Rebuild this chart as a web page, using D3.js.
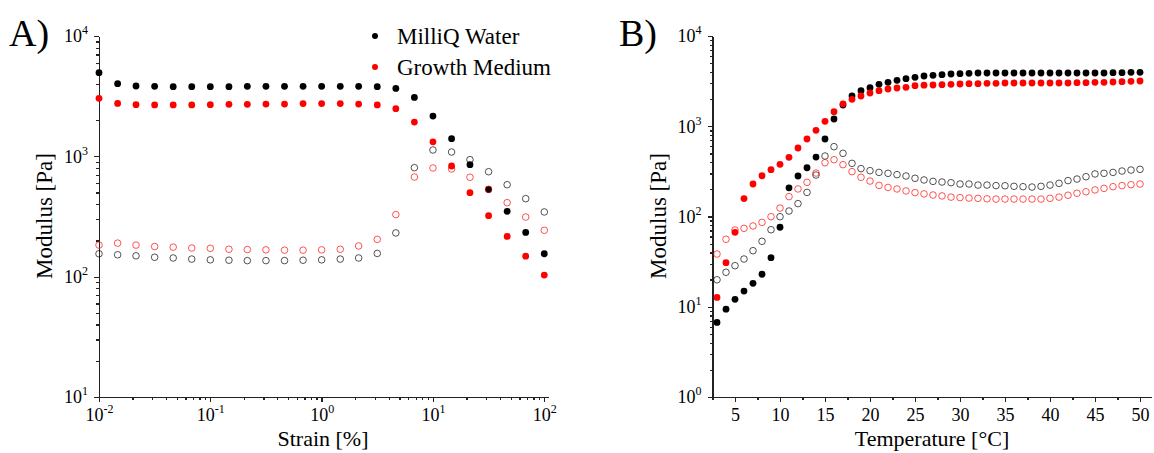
<!DOCTYPE html>
<meta charset="utf-8">

<script src="https://cdn.jsdelivr.net/npm/d3@7"></script>

<style type="text/css">

body { margin: 0; background: #fff; }
.axis path, .axis line { stroke: #222; stroke-width: 1.3; shape-rendering: crispEdges; }

</style>

<body></body>

<script>

// Panel A: strain sweep
var strain = [0.01, 0.0147, 0.0215, 0.0316, 0.0464, 0.0681, 0.1, 0.147, 0.215, 0.316, 0.464, 0.681,
              1, 1.47, 2.15, 3.16, 4.64, 6.81, 10, 14.7, 21.5, 31.6, 46.4, 68.1, 100];

var waterStorageA = [4955, 4018, 3841, 3815, 3795, 3795, 3795, 3795, 3815, 3815, 3815, 3815, 3815,
                     3815, 3815, 3795, 3670, 3090, 2160, 1403, 853, 530, 349, 233, 155];
var mediumStorageA = [3034, 2754, 2687, 2673, 2673, 2673, 2687, 2704, 2704, 2720, 2720, 2742, 2742,
                      2742, 2720, 2673, 2490, 1928, 1320, 831, 499, 321, 216, 148, 103];
var waterLossA = [155, 152, 149, 145, 143, 140, 138, 137, 136, 136, 136, 137, 138,
                  140, 143, 156, 231, 805, 1129, 1086, 938, 745, 581, 445, 345];
var mediumLossA = [183, 190, 183, 178, 176, 173, 172, 169, 168, 167, 166, 166, 167,
                   169, 180, 204, 328, 673, 800, 785, 670, 532, 412, 313, 243];

// Panel B: temperature ramp
var temperature = [3, 4, 5, 6, 7, 8, 9, 10, 11, 12, 13, 14, 15, 16, 17, 18, 19, 20, 21, 22, 23, 24, 25, 26,
                   27, 28, 29, 30, 31, 32, 33, 34, 35, 36, 37, 38, 39, 40, 41, 42, 43, 44, 45, 46, 47, 48, 49, 50];

var waterStorageB = [6.7, 9.4, 12.1, 14.9, 18.2, 22.9, 35, 76, 208, 281, 347, 456, 722, 1203, 1720, 2163,
                     2478, 2678, 2913, 3066, 3227, 3367, 3485, 3606, 3665, 3731, 3793, 3826, 3857, 3890,
                     3890, 3890, 3890, 3890, 3890, 3890, 3890, 3890, 3890, 3890, 3890, 3890, 3890, 3890,
                     3924, 3924, 3958, 3958];
var mediumStorageB = [12.7, 30.8, 66.8, 158, 229, 283, 330, 379, 453, 574, 722, 901, 1135, 1451, 1770, 1987,
                      2163, 2336, 2478, 2586, 2653, 2700, 2816, 2850, 2866, 2890, 2913, 2937, 2963, 2963,
                      2990, 2990, 3015, 3015, 3015, 3015, 3015, 3015, 3015, 3015, 3040, 3040, 3066, 3066,
                      3092, 3120, 3145, 3172];
var waterLossB = [19.9, 24.1, 28.5, 33.8, 41.8, 53.1, 71.4, 99.5, 115, 139, 185, 288, 468, 594, 501, 388,
                  339, 322, 308, 301, 291, 281, 265, 254, 245, 241, 237, 229, 229, 223, 223, 220, 219, 216,
                  214, 212, 216, 223, 233, 250, 260, 276, 296, 301, 308, 319, 327, 333];
var mediumLossB = [38.4, 55.9, 70.8, 73.9, 78.5, 86.1, 99.5, 124, 166, 202, 239, 303, 394, 426, 375, 314,
                   272, 247, 221, 210, 202, 192, 184, 178, 173, 169, 164, 162, 160, 159, 157, 156, 156, 156,
                   156, 156, 156, 159, 164, 172, 181, 188, 197, 205, 214, 220, 225, 229];

var tempTicks = [5, 10, 15, 20, 25, 30, 35, 40, 45, 50];
var tempMinor = [2.5, 7.5, 12.5, 17.5, 22.5, 27.5, 32.5, 37.5, 42.5, 47.5];

var legendNames = ["MilliQ Water", "Growth Medium"];
var legendColors = ["#000", "#ff0000"];

var serif = "Liberation Serif";
var tickFont = 18;
var width = 1154, height = 453;

var svg = d3.select("body").append("svg")
    .attr("width", width)
    .attr("height", height)
    .attr("font-family", serif);

// scales
var xA = d3.scaleLog().domain([0.01, 108]).range([99, 548]);
var yA = d3.scaleLog().domain([10, 10000]).range([397, 36]);
var xB = d3.scaleLinear().domain([2.5, 51.3]).range([712.5, 1151.7]);
var yB = d3.scaleLog().domain([1, 10000]).range([397, 36]);

function decadeMinors(lo, hi) {
  var out = [];
  for (var e = lo; e < hi; e++) {
    for (var m = 2; m <= 9; m++) out.push(m * Math.pow(10, e));
  }
  return out;
}

function supLabels(sel) {
  sel.selectAll(".tick text").each(function(d) {
    var t = d3.select(this);
    var e = Math.round(Math.log10(d));
    t.text("10");
    t.append("tspan").attr("dy", -8).attr("font-size", 12).text(e < 0 ? "-" + (-e) : e);
  });
}

function axisGroup(tx, ty) {
  return svg.append("g").attr("class", "axis")
    .attr("transform", `translate(${tx},${ty})`);
}

// put the serif face straight on the tick texts (d3 sets sans-serif on the group)
function serifTicks(sel) {
  sel.attr("font-family", serif).attr("font-size", tickFont);
  sel.selectAll(".tick text").attr("font-family", serif).attr("fill", "#000");
}

function drawLogY(scale, x0, lo, hi) {
  var minor = axisGroup(x0, 0)
      .call(d3.axisLeft(scale).tickValues(decadeMinors(lo, hi)).tickSize(3).tickSizeOuter(0).tickFormat(""));
  minor.select("path").remove();

  var major = axisGroup(x0, 0)
      .call(d3.axisLeft(scale).tickValues(d3.range(lo, hi + 1).map(e => Math.pow(10, e)))
        .tickSize(5).tickSizeOuter(0).tickPadding(6));
  serifTicks(major);
  major.selectAll(".tick text").attr("dy", "0.33em");
  supLabels(major);
}

// ----- Panel A axes -----
var xAxisMinorA = axisGroup(0, 397)
    .call(d3.axisBottom(xA).tickValues(decadeMinors(-2, 2)).tickSize(3).tickSizeOuter(0).tickFormat(""));
xAxisMinorA.select("path").remove();

var xAxisA = axisGroup(0, 397)
    .call(d3.axisBottom(xA).tickValues([0.01, 0.1, 1, 10, 100]).tickSize(5).tickSizeOuter(0));
serifTicks(xAxisA);
xAxisA.selectAll(".tick text").attr("y", 24).attr("dy", 0);
supLabels(xAxisA);

drawLogY(yA, 99, 1, 4);

// ----- Panel B axes -----
var xAxisMinorB = axisGroup(0, 397)
    .call(d3.axisBottom(xB).tickValues(tempMinor).tickSize(3).tickSizeOuter(0).tickFormat(""));
xAxisMinorB.select("path").remove();

var xAxisB = axisGroup(0, 397)
    .call(d3.axisBottom(xB).tickValues(tempTicks).tickSize(5).tickSizeOuter(0));
serifTicks(xAxisB);
xAxisB.selectAll(".tick text").attr("y", 24).attr("dy", 0);

drawLogY(yB, 712.5, 0, 4);

// ----- axis titles & panel letters -----
function label(x, y, size, txt) {
  return svg.append("text")
    .attr("x", x).attr("y", y)
    .attr("font-family", serif)
    .attr("font-size", size)
    .attr("fill", "#000")
    .text(txt);
}

label(9, 46, 38, "A)");
label(619, 46, 38, "B)");

label(0, 0, 23, "Modulus [Pa]")
    .attr("transform", "translate(52,216) rotate(-90)")
    .attr("text-anchor", "middle");
label(0, 0, 23, "Modulus [Pa]")
    .attr("transform", "translate(666,216) rotate(-90)")
    .attr("text-anchor", "middle");

label(323, 446, 22, "Strain [%]").attr("text-anchor", "middle");
label(932, 446, 22, "Temperature [°C]").attr("text-anchor", "middle");

// ----- markers -----
function filled(xs, ys, xScale, yScale, color) {
  svg.append("g").selectAll("circle")
    .data(ys)
    .enter().append("circle")
    .attr("cx", (d, i) => xScale(xs[i]))
    .attr("cy", d => yScale(d))
    .attr("r", 3.4)
    .attr("fill", color);
}

function hollow(xs, ys, xScale, yScale, color) {
  svg.append("g").selectAll("circle")
    .data(ys)
    .enter().append("circle")
    .attr("cx", (d, i) => xScale(xs[i]))
    .attr("cy", d => yScale(d))
    .attr("r", 3.3)
    .attr("fill", "none")
    .attr("stroke", color)
    .attr("stroke-width", 0.9)
    .attr("stroke-opacity", 0.75);
}

filled(strain, waterStorageA, xA, yA, "#000");
filled(strain, mediumStorageA, xA, yA, "#ff0000");
hollow(strain, waterLossA, xA, yA, "#000");
hollow(strain, mediumLossA, xA, yA, "#ff0000");

filled(temperature, waterStorageB, xB, yB, "#000");
filled(temperature, mediumStorageB, xB, yB, "#ff0000");
hollow(temperature, waterLossB, xB, yB, "#000");
hollow(temperature, mediumLossB, xB, yB, "#ff0000");

// ----- legend -----
var legend = svg.append("g").selectAll("g")
    .data(legendNames)
    .enter().append("g")
    .attr("transform", (d, i) => `translate(375,${36 + i * 31})`);

legend.append("circle").attr("r", 3).attr("fill", (d, i) => legendColors[i]);
legend.append("text")
    .attr("x", 22).attr("y", 8)
    .attr("font-family", serif)
    .attr("font-size", 23)
    .text(d => d);

</script>
